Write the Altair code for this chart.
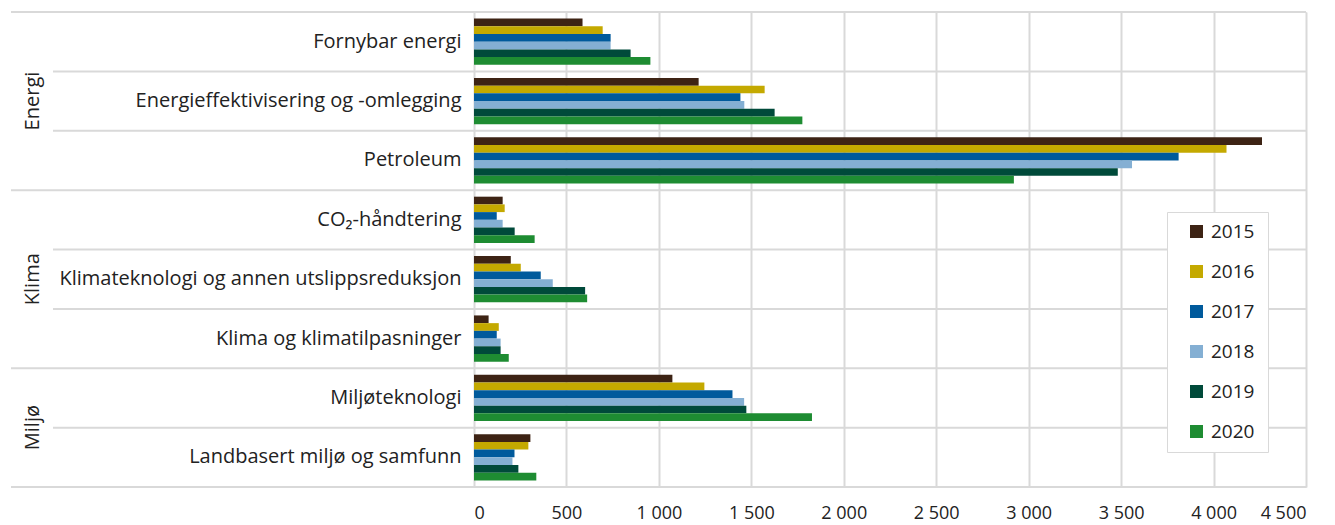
import altair as alt
import pandas as pd

categories = [
    "Fornybar energi",
    "Energieffektivisering og -omlegging",
    "Petroleum",
    "CO₂-håndtering",
    "Klimateknologi og annen utslippsreduksjon",
    "Klima og klimatilpasninger",
    "Miljøteknologi",
    "Landbasert miljø og samfunn",
]
groups = ["Energi", "Energi", "Energi", "Klima", "Klima", "Klima", "Miljø", "Miljø"]
years = ["2015", "2016", "2017", "2018", "2019", "2020"]

v2015 = [587, 1215, 4262, 155, 199, 79, 1073, 305]
v2016 = [696, 1572, 4070, 166, 253, 134, 1246, 294]
v2017 = [739, 1441, 3811, 123, 361, 123, 1398, 219]
v2018 = [739, 1462, 3559, 155, 426, 144, 1461, 208]
v2019 = [847, 1626, 3482, 220, 601, 144, 1473, 240]
v2020 = [954, 1776, 2920, 328, 612, 188, 1828, 337]

colors = ["#3d2314", "#c4a900", "#005a9c", "#84afd3", "#004a3a", "#1e8c32"]
grid_color = "#d9d9d9"
font = "Open Sans"

series = [v2015, v2016, v2017, v2018, v2019, v2020]
rows = []
for y, vals in zip(years, series):
    for c, g, v in zip(categories, groups, vals):
        rows.append({"category": c, "group": g, "year": y, "value": v})
df = pd.DataFrame(rows)

W, H = 832, 475

yscale = alt.Scale(domain=categories, paddingInner=0, paddingOuter=0)

bars = alt.Chart(df).mark_bar().encode(
    x=alt.X(
        "value:Q",
        scale=alt.Scale(domain=[0, 4500], nice=False),
        axis=alt.Axis(
            values=list(range(0, 4501, 500)),
            title=None,
            grid=True,
            gridColor=grid_color,
            gridWidth=2,
            domain=False,
            ticks=False,
            labelFont=font,
            labelFontSize=18,
            labelColor="#222222",
            labelPadding=17,
            labelExpr="replace(format(datum.value, ','), ',', ' ')",
        ),
    ),
    y=alt.Y(
        "category:N",
        scale=yscale,
        axis=alt.Axis(
            title=None,
            grid=False,
            domain=False,
            ticks=False,
            labelFont=font,
            labelFontSize=20,
            labelColor="#222222",
            labelPadding=13,
            labelLimit=500,
        ),
    ),
    yOffset=alt.YOffset(
        "year:N",
        scale=alt.Scale(domain=years, paddingInner=0, paddingOuter=0.85),
    ),
    color=alt.Color(
        "year:N",
        scale=alt.Scale(domain=years, range=colors),
        legend=alt.Legend(
            title=" ",
            titleOrient="right",
            titleFontSize=1,
            titlePadding=4,
            orient="none",
            legendX=693,
            legendY=200,
            padding=10,
            symbolOffset=10,
            symbolType="square",
            symbolSize=170,
            symbolStrokeWidth=0,
            labelFont=font,
            labelFontSize=19,
            labelColor="#222222",
            labelOffset=5,
            rowPadding=20,
            strokeColor=grid_color,
            fillColor="white",
        ),
    ),
)

grp_top_cats = [c for c, g, prev in zip(categories, groups, [None] + groups[:-1]) if g != prev]
inner_top_cats = [c for c, g, prev in zip(categories, groups, [None] + groups[:-1]) if g == prev]

grp_lines = alt.Chart(pd.DataFrame({"category": grp_top_cats})).mark_rule(
    color=grid_color, strokeWidth=2
).encode(
    y=alt.Y("category:N", scale=yscale, bandPosition=0),
    x=alt.value(-463),
    x2=alt.value(W),
)

inner_lines = alt.Chart(pd.DataFrame({"category": inner_top_cats})).mark_rule(
    color=grid_color, strokeWidth=2
).encode(
    y=alt.Y("category:N", scale=yscale, bandPosition=0),
    x=alt.value(-421),
    x2=alt.value(W),
)

bottom_line = alt.Chart(pd.DataFrame({"category": [categories[-1]]})).mark_rule(
    color=grid_color, strokeWidth=2
).encode(
    y=alt.Y("category:N", scale=yscale, bandPosition=1),
    x=alt.value(-463),
    x2=alt.value(W),
)

group_names = ["Energi", "Klima"]
group_anchor = [categories[1], categories[4]]
grp_text_a = alt.Chart(pd.DataFrame({"group": group_names, "category": group_anchor})).mark_text(
    angle=270, align="center", baseline="middle", font=font, fontSize=20, color="#222222"
).encode(
    y=alt.Y("category:N", scale=yscale, bandPosition=0.5),
    x=alt.value(-441),
    text="group:N",
)
grp_text_b = alt.Chart(pd.DataFrame({"group": ["Miljø"], "category": [categories[6]]})).mark_text(
    angle=270, align="center", baseline="middle", font=font, fontSize=20, color="#222222"
).encode(
    y=alt.Y("category:N", scale=yscale, bandPosition=1),
    x=alt.value(-441),
    text="group:N",
)

chart = alt.layer(
    grp_lines, inner_lines, bottom_line, bars, grp_text_a, grp_text_b
).properties(
    width=W,
    height=H,
    autosize=alt.AutoSizeParams(type="none"),
    padding={"left": 466, "top": 4, "right": 20, "bottom": 38},
).configure_view(stroke=None).configure_legend(strokeWidth=2).configure(background="white")

chart.save("out.html", embed_options={"renderer": "svg", "actions": False})
